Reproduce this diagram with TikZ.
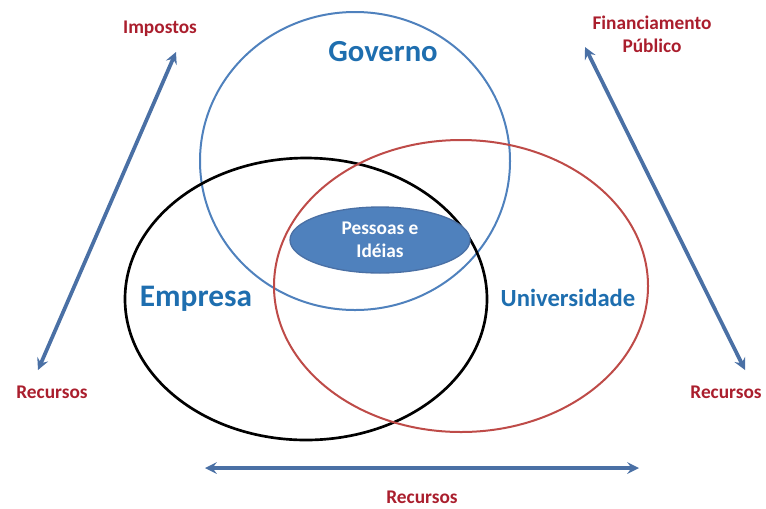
\documentclass[tikz,border=0pt]{standalone}
\usepackage{fontspec}
\setmainfont{Carlito}
\usepackage{tikz}
\usetikzlibrary{shapes}
\usetikzlibrary{arrows}

\definecolor{azul}{RGB}{79,129,189}
\definecolor{azulescuro}{RGB}{30,110,175}
\definecolor{seta}{RGB}{74,112,165}
\definecolor{vermelho}{RGB}{190,75,72}
\definecolor{rotulo}{RGB}{170,30,45}

\begin{document}
\begin{tikzpicture}[x=0.75pt,y=-0.75pt]
	\tikzstyle{conjunto}=[ellipse,draw,inner sep=0pt,line width=1.5pt]
	\tikzstyle{titulo}=[font=\bfseries,text=azulescuro]
	\tikzstyle{fluxo}=[font=\bfseries\fontsize{14.5}{17}\selectfont,text=rotulo,align=center]
	\tikzstyle{seta dupla}=[<->,>=stealth,draw=seta,line width=2.8pt]

	\useasboundingbox (0,0) rectangle (766,508);

	\node[conjunto,draw=azul,minimum width=232.5pt,minimum height=223.5pt] (governo) at (355,161) {};
	\node[conjunto,draw=black,line width=2pt,minimum width=271.5pt,minimum height=211.5pt] (empresa) at (306,299) {};
	\node[conjunto,draw=vermelho,minimum width=280.5pt,minimum height=219pt] (universidade) at (461,286) {};
	\node[ellipse,fill=azul,draw=seta,line width=1pt,minimum width=135pt,minimum height=49.5pt,
		text=white,font=\bfseries\fontsize{14.5}{17.5}\selectfont,align=center,inner sep=0pt] (pessoas) at (380,240) {Pessoas e\\Idéias};

	\node[titulo,font=\bfseries\fontsize{23}{26}\selectfont] (tgoverno) at (383,52) {Governo};
	\node[titulo,font=\bfseries\fontsize{23.5}{26}\selectfont] (tempresa) at (196,299) {Empresa};
	\node[titulo,font=\bfseries\fontsize{18.5}{22}\selectfont] (tuniversidade) at (568,298) {Universidade};

	\node[fluxo] (impostos) at (160,29) {Impostos};
	\node[fluxo] (recesq) at (52,392) {Recursos};
	\node[fluxo] (financiamento) at (652,34) {Financiamento\\Público};
	\node[fluxo] (recdir) at (726,392) {Recursos};
	\node[fluxo] (recbaixo) at (422,497) {Recursos};

	\coordinate (a1) at (38,370);
	\coordinate (a2) at (176,52);
	\coordinate (b1) at (585,47);
	\coordinate (b2) at (745,370);
	\coordinate (c1) at (205,468);
	\coordinate (c2) at (639,468);

	\draw[seta dupla] (a1) -- (a2);
	\draw[seta dupla] (b1) -- (b2);
	\draw[seta dupla] (c1) -- (c2);
\end{tikzpicture}
\end{document}
